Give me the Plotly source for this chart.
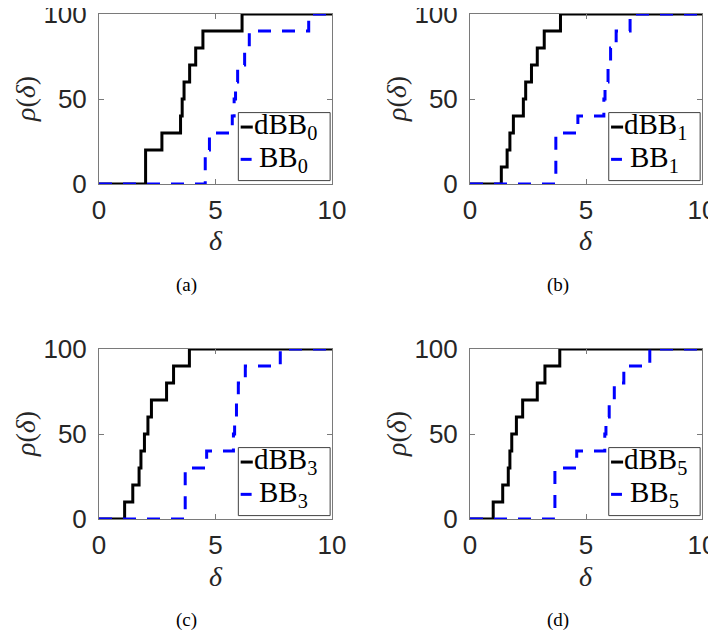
import plotly.graph_objects as go

# ---------------- data (performance profiles) ----------------
rho_10 = [0, 10, 20, 30, 40, 50, 60, 70, 80, 90, 100, 100]

# panel (a)
dbb0_delta = [0, 2.0, 2.7, 3.5, 3.57, 3.65, 3.89, 4.15, 4.46, 6.14, 10]
dbb0_rho = [0, 20, 30, 40, 50, 60, 70, 80, 90, 100, 100]
bb0_delta = [0, 4.56, 4.74, 5.72, 5.8, 5.86, 5.95, 6.25, 6.45, 9.0, 10]
bb0_rho = [0, 20, 30, 40, 50, 60, 70, 80, 90, 100, 100]

# panel (b)
dbb1_delta = [0, 1.35, 1.6, 1.72, 1.87, 2.3, 2.4, 2.65, 2.9, 3.2, 3.9, 10]
dbb1_rho = rho_10
bb1_delta = [0, 3.7, 4.65, 5.77, 5.82, 5.95, 6.06, 6.3, 6.9, 10]
bb1_rho = [0, 30, 40, 50, 60, 70, 80, 90, 100, 100]

# panel (c)
dbb3_delta = [0, 1.1, 1.45, 1.72, 1.8, 1.95, 2.1, 2.25, 2.9, 3.2, 3.88, 10]
dbb3_rho = rho_10
bb3_delta = [0, 3.7, 4.62, 5.77, 5.82, 5.9, 5.98, 6.28, 7.78, 10]
bb3_rho = [0, 30, 40, 50, 60, 70, 80, 90, 100, 100]

# panel (d)
dbb5_delta = [0, 1.0, 1.41, 1.65, 1.72, 1.8, 2.0, 2.27, 2.9, 3.23, 3.87, 10]
dbb5_rho = rho_10
bb5_delta = [0, 3.66, 4.6, 5.81, 5.86, 6.0, 6.22, 6.63, 7.75, 10]
bb5_rho = [0, 30, 40, 50, 60, 70, 80, 90, 100, 100]

subscripts = ["0", "1", "3", "5"]
captions = ["(a)", "(b)", "(c)", "(d)"]
x_ticks = [0, 5, 10]
y_ticks = [0, 50, 100]

series = [
    (dbb0_delta, dbb0_rho, bb0_delta, bb0_rho),
    (dbb1_delta, dbb1_rho, bb1_delta, bb1_rho),
    (dbb3_delta, dbb3_rho, bb3_delta, bb3_rho),
    (dbb5_delta, dbb5_rho, bb5_delta, bb5_rho),
]

# ---------------- layout geometry ----------------
# the page body adds an 8px offset, so the figure is 8px smaller than the window
OX, OY = 8, 8
W, H = 716 - OX, 636 - OY


def px(x):
    return (x - OX) / W


def py(y):
    return 1 - (y - OY) / H


x_doms = [[px(99), px(332)], [px(470), px(702)]]
y_doms = [[py(184), py(14)], [py(519), py(349)]]

AXIS_GREY = "#7a7a7a"
TXT = "#262626"
SANS = "Liberation Sans, Arial, sans-serif"
SERIF = "Liberation Serif, Times New Roman, serif"

fig = go.Figure()
layout = dict(
    width=W, height=H, autosize=False,
    margin=dict(l=0, r=0, t=0, b=0, pad=0, autoexpand=False),
    paper_bgcolor="white", plot_bgcolor="white",
    showlegend=False,
    annotations=[], shapes=[],
)

for i, (dx, dy, bx, by) in enumerate(series):
    n = i + 1
    col, row = i % 2, i // 2
    xa = "x" if n == 1 else f"x{n}"
    ya = "y" if n == 1 else f"y{n}"
    xkey = "xaxis" if n == 1 else f"xaxis{n}"
    ykey = "yaxis" if n == 1 else f"yaxis{n}"
    s = subscripts[i]

    fig.add_trace(go.Scatter(
        x=dx, y=dy, mode="lines", line_shape="hv",
        line=dict(color="black", width=3),
        name=f"dBB{s}", xaxis=xa, yaxis=ya))
    fig.add_trace(go.Scatter(
        x=bx, y=by, mode="lines", line_shape="hv",
        line=dict(color="#0000ff", width=3, dash="13px,11px"),
        name=f"BB{s}", xaxis=xa, yaxis=ya))

    common = dict(
        showgrid=False, zeroline=False, showline=True, mirror="ticks",
        linecolor=AXIS_GREY, linewidth=1, automargin=False,
        ticks="inside", ticklen=5, tickcolor=AXIS_GREY, tickwidth=1,
        tickfont=dict(family=SANS, size=26, color=TXT),
        ticklabeloverflow="allow", fixedrange=True,
    )
    layout[xkey] = dict(common, domain=x_doms[col], range=[0, 10],
                        tickvals=x_ticks, anchor=ya, ticklabelstandoff=3)
    layout[ykey] = dict(common, domain=y_doms[row], range=[0, 100],
                        tickvals=y_ticks, anchor=xa, ticklabelstandoff=6)

    xc = (x_doms[col][0] + x_doms[col][1]) / 2
    dx_px = col * 371
    dy_px = row * 335
    # y-axis title
    layout["annotations"].append(dict(
        text="<i>ρ</i>(<i>δ</i>)", xref="paper", yref="paper",
        x=px(25 + dx_px), y=py(99 + dy_px),
        xanchor="center", yanchor="middle", textangle=-90, showarrow=False,
        font=dict(family=SERIF, size=28, color=TXT)))
    # x-axis title
    layout["annotations"].append(dict(
        text="<i>δ</i>", xref="paper", yref="paper",
        x=xc, y=py(241 + dy_px),
        xanchor="center", yanchor="middle", showarrow=False,
        font=dict(family=SERIF, size=28, color=TXT)))
    # subfigure caption
    layout["annotations"].append(dict(
        text=captions[i], xref="paper", yref="paper",
        x=px(187 + dx_px), y=py(285 + dy_px),
        xanchor="center", yanchor="middle", showarrow=False,
        font=dict(family=SERIF, size=19, color="black")))

    # legend box
    xd, yd = f"{xa} domain", f"{ya} domain"
    layout["shapes"].append(dict(
        type="rect", xref=xd, yref=yd, x0=0.598, x1=0.992, y0=0.02, y1=0.42,
        line=dict(color="#404040", width=1), fillcolor="white", layer="above"))
    layout["shapes"].append(dict(
        type="line", xref=xd, yref=yd, x0=0.608, x1=0.66, y0=0.335, y1=0.335,
        line=dict(color="black", width=3), layer="above"))
    layout["shapes"].append(dict(
        type="line", xref=xd, yref=yd, x0=0.608, x1=0.655, y0=0.145, y1=0.145,
        line=dict(color="#0000ff", width=3), layer="above"))
    layout["annotations"].append(dict(
        text=f"dBB<sub>{s}</sub>", xref=xd, yref=yd, x=0.655, y=0.34,
        xanchor="left", yanchor="middle", showarrow=False,
        font=dict(family=SERIF, size=29, color="black")))
    layout["annotations"].append(dict(
        text=f"BB<sub>{s}</sub>", xref=xd, yref=yd, x=0.68, y=0.145,
        xanchor="left", yanchor="middle", showarrow=False,
        font=dict(family=SERIF, size=29, color="black")))

fig.update_layout(**layout)
fig.write_html("out.html")
